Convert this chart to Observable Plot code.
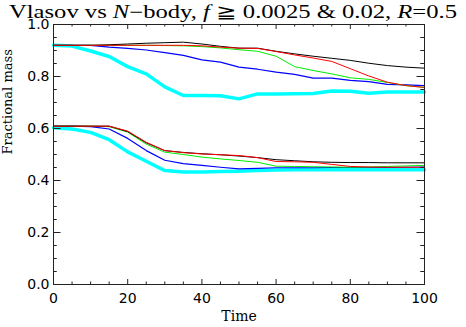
<!DOCTYPE html>
<html><head><meta charset="utf-8">
<script src="https://cdn.jsdelivr.net/npm/d3@7"></script>
<script src="https://cdn.jsdelivr.net/npm/@observablehq/plot@0.6"></script>
<style>
body{margin:0;background:#fff}
#wrap{position:relative;width:466px;height:327px}
#title{position:absolute;left:9px;top:1px;white-space:nowrap;font-family:"Liberation Serif",serif;font-size:18px;line-height:22px;color:#000;transform-origin:0 0}
#title i{font-style:italic}
#title span.sym{font-family:"DejaVu Sans"}
</style>
</head><body><div id="wrap"><div id="chart"></div><div id="title"></div></div>
<script>
const times = [0,5,10,15,20,25,30,35,40,45,50,55,60,65,70,75,80,85,90,95,100];
// upper group (f >= 0.0025)
const blackHi = [.92,.92,.92,.922,.925,.928,.930,.932,.925,.916,.909,.909,.897,.887,.878,.870,.862,.851,.842,.836,.832];
const redHi   = [.92,.92,.92,.92,.92,.92,.92,.92,.918,.913,.909,.908,.896,.883,.871,.858,.830,.802,.778,.765,.758];
const greenHi = [.92,.92,.92,.92,.92,.92,.919,.918,.915,.91,.903,.897,.878,.838,.823,.810,.795,.789,.777,.765,.758];
const blueHi  = [.92,.92,.92,.913,.908,.902,.892,.881,.864,.855,.836,.828,.817,.808,.794,.794,.785,.780,.770,.768,.765];
const cyanHi  = [.92,.917,.898,.877,.838,.81,.76,.727,.727,.726,.714,.733,.733,.734,.735,.744,.743,.736,.740,.740,.740];
// lower group (f >= 0.02)
const blackLo = [.609,.609,.609,.609,.588,.545,.515,.508,.503,.499,.494,.488,.480,.476,.472,.470,.469,.469,.468,.468,.468];
const redLo   = [.609,.609,.609,.609,.590,.547,.515,.507,.502,.499,.496,.488,.473,.472,.470,.462,.454,.452,.451,.451,.451];
const greenLo = [.609,.609,.609,.607,.586,.540,.509,.500,.490,.483,.477,.470,.455,.454,.453,.452,.451,.452,.454,.456,.458];
const blueLo  = [.609,.609,.607,.598,.562,.515,.478,.465,.458,.451,.445,.447,.449,.449,.449,.450,.450,.450,.450,.451,.452];
const cyanLo  = [.603,.598,.585,.557,.510,.474,.438,.433,.433,.435,.436,.438,.440,.441,.441,.441,.441,.441,.441,.441,.441];

const xMajor = [0,20,40,60,80,100];
const xMinor = [5,10,15,25,30,35,45,50,55,65,70,75,85,90,95];
const yMajor = [0,0.2,0.4,0.6,0.8,1.0];
const yMinor = [0.05,0.1,0.15,0.25,0.3,0.35,0.45,0.5,0.55,0.65,0.7,0.75,0.85,0.9,0.95];
const xTitle = "Time";
const yTitle = "Fractional mass";

const series = [
  {vals: cyanHi, color: "#00ffff", w: 3.5},
  {vals: cyanLo, color: "#00ffff", w: 3.5},
  {vals: blueHi, color: "#0000ff", w: 1.2},
  {vals: blueLo, color: "#0000ff", w: 1.2},
  {vals: greenHi, color: "#00ee00", w: 1},
  {vals: greenLo, color: "#00ee00", w: 1},
  {vals: blackHi, color: "#000000", w: 1},
  {vals: blackLo, color: "#000000", w: 1},
  {vals: redHi, color: "#ff0000", w: 1},
  {vals: redLo, color: "#ff0000", w: 1}
];

const W = 466, H = 327, mL = 53, mR = 42, mT = 24, mB = 43;
const pw = W - mL - mR, ph = H - mT - mB;
const xT = 5, yT = 7.5;

const marks = [];
for (const s of series) {
  const data = times.map((t, i) => ({t, v: s.vals[i]}));
  marks.push(Plot.line(data, {x: "t", y: "v", stroke: s.color, strokeWidth: s.w, curve: "linear"}));
}
marks.push(
  Plot.tickX(xMajor, {x: d => d, insetTop: ph - xT, stroke: "#222"}),
  Plot.tickX(xMajor, {x: d => d, insetBottom: ph - xT, stroke: "#222"}),
  Plot.tickX(xMinor, {x: d => d, insetTop: ph - xT/2, stroke: "#222"}),
  Plot.tickX(xMinor, {x: d => d, insetBottom: ph - xT/2, stroke: "#222"}),
  Plot.tickY(yMajor, {y: d => d, insetRight: pw - yT, stroke: "#222"}),
  Plot.tickY(yMajor, {y: d => d, insetLeft: pw - yT, stroke: "#222"}),
  Plot.tickY(yMinor, {y: d => d, insetRight: pw - yT/2, stroke: "#222"}),
  Plot.tickY(yMinor, {y: d => d, insetLeft: pw - yT/2, stroke: "#222"}),
  Plot.frame({stroke: "#222", strokeWidth: 1}),
  Plot.axisX(xMajor, {anchor: "bottom", tickSize: 0, tickPadding: 9, tickFormat: d => String(d),
    fontSize: 14, fontFamily: "DejaVu Sans", label: null}),
  Plot.axisY(yMajor, {anchor: "left", tickSize: 0, tickPadding: 4, tickFormat: d3.format(".1f"),
    fontSize: 14, fontFamily: "DejaVu Sans", label: null}),
  Plot.text([xTitle], {frameAnchor: "bottom", dy: 36, text: d => d, fontFamily: "DejaVu Serif", fontSize: 14}),
  Plot.text([yTitle], {frameAnchor: "left", dx: -46, rotate: -90, text: d => d, fontFamily: "DejaVu Serif", fontSize: 13})
);

const plot = Plot.plot({
  width: W, height: H,
  marginLeft: mL, marginRight: mR, marginTop: mT, marginBottom: mB,
  x: {domain: [0, 100]},
  y: {domain: [0, 1]},
  style: {fontFamily: "DejaVu Serif", fontSize: "14px", color: "#000", background: "#fff", overflow: "visible"},
  marks
});
document.getElementById("chart").appendChild(plot);

// title (HTML, with italic symbols), stretched horizontally to the reference width
const titleEl = document.getElementById("title");
titleEl.innerHTML = 'Vlasov vs <i>N</i>\u2212body, <i>f</i> <span class="sym">\u2267</span> 0.0025 &amp; 0.02, <i>R</i>=0.5';
const tw = titleEl.getBoundingClientRect().width;
if (tw > 0) titleEl.style.transform = "scaleX(" + (448 / tw) + ")";
</script>
</body></html>
